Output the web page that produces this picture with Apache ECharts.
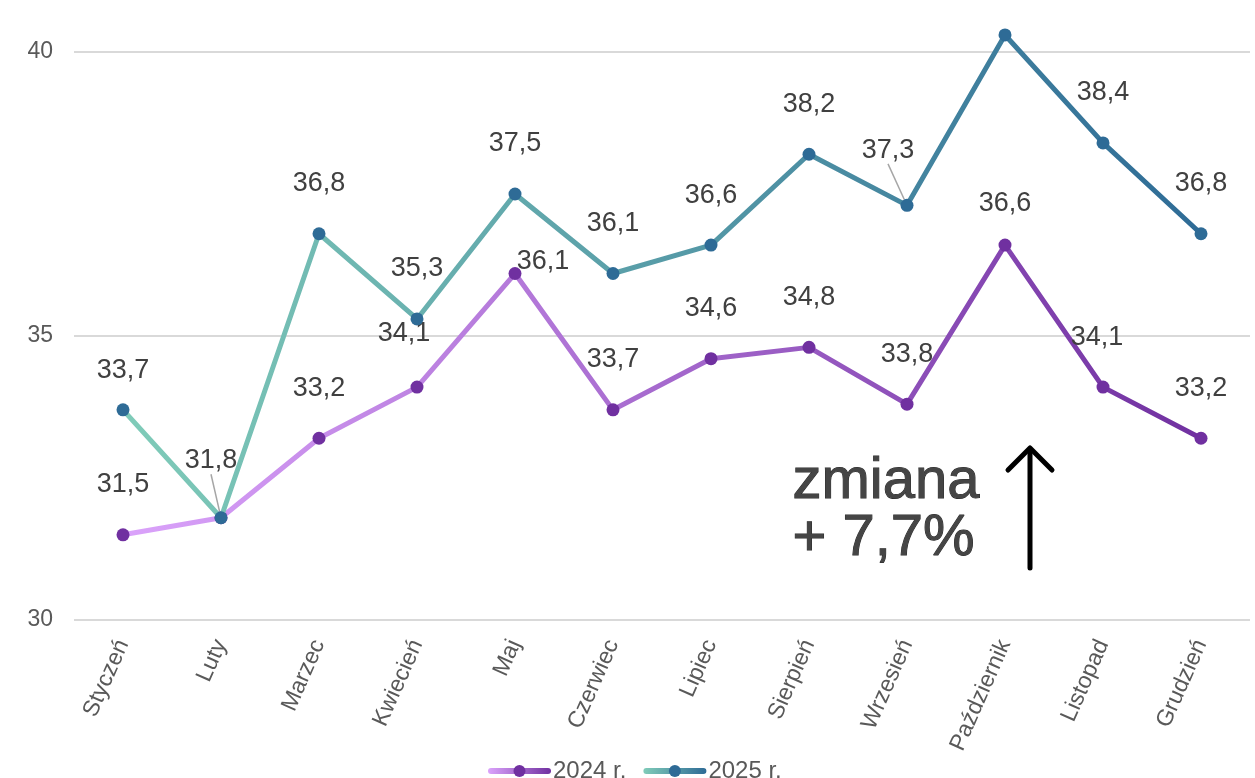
<!DOCTYPE html>
<html>
<head>
<meta charset="utf-8">
<script src="https://cdn.jsdelivr.net/npm/echarts@6.0.0/dist/echarts.min.js"></script>
<style>
html,body{margin:0;padding:0;background:#fff;}
#chart{width:1255px;height:778px;}
</style>
</head>
<body>
<div id="chart"></div>
<script>
const categories = ['Styczeń','Luty','Marzec','Kwiecień','Maj','Czerwiec','Lipiec','Sierpień','Wrzesień','Październik','Listopad','Grudzień'];
const values2024 = [31.5, 31.8, 33.2, 34.1, 36.1, 33.7, 34.6, 34.8, 33.8, 36.6, 34.1, 33.2];
const values2025 = [33.7, 31.8, 36.8, 35.3, 37.5, 36.1, 36.6, 38.2, 37.3, 40.3, 38.4, 36.8];
const seriesNames = ['2024 r.', '2025 r.'];
const yTicks = [30, 35, 40];
const annotationLines = ['zmiana', '+ 7,7%'];

// label placement tweaks (layout only, not data)
const hiddenLabels = {'0-1': true, '1-9': true};
const labelOffsets = {'0-3': [-13, -4], '0-4': [28, 38], '0-9': [0, 8], '0-10': [-6, 0], '1-0': [0, 11], '1-1': [-10, -7], '1-8': [-19, -5]};
const leaderLabels = {'1-1': true, '1-8': true};

const FONT = 'Liberation Sans, Arial, sans-serif';
const BASE_OFFSET = -50;

function buildData(values, si) {
  return values.map((v, i) => {
    const key = si + '-' + i;
    const item = {value: v};
    if (hiddenLabels[key]) item.label = {show: false};
    if (leaderLabels[key]) item.labelLine = {show: true};
    return item;
  });
}

const palettes = [
  {from: '#dba3fb', to: '#7030a0', point: '#7030a0'},
  {from: '#80ccb9', to: '#2e6b96', point: '#2e6b96'}
];

const seriesValues = [values2024, values2025];

const chart = echarts.init(document.getElementById('chart'), null, {renderer: 'canvas'});
chart.setOption({
  animation: false,
  textStyle: {fontFamily: FONT},
  grid: {left: 74, right: 5, top: 23.6, bottom: 158},
  legend: {
    top: 754, left: 483,
    itemWidth: 57, itemHeight: 15, itemGap: 17,
    lineStyle: {width: 6, cap: 'round'},
    textStyle: {fontSize: 24, color: '#595959', fontFamily: FONT},
    data: seriesNames
  },
  xAxis: {
    type: 'category',
    data: categories,
    boundaryGap: true,
    axisLine: {show: false},
    axisTick: {show: false},
    axisLabel: {rotate: 66, margin: 21, fontSize: 23, color: '#595959', fontFamily: FONT, interval: 0}
  },
  yAxis: {
    type: 'value',
    min: yTicks[0], max: 40.5, interval: yTicks[1] - yTicks[0],
    axisLine: {show: false},
    axisTick: {show: false},
    axisLabel: {
      fontSize: 23, color: '#595959', margin: 21, fontFamily: FONT,
      showMaxLabel: false,
      formatter: v => yTicks.indexOf(v) >= 0 ? String(v) : ''
    },
    splitLine: {show: true, showMaxLine: false, lineStyle: {color: '#d9d9d9', width: 2}}
  },
  series: seriesValues.map((vals, si) => ({
    name: seriesNames[si],
    type: 'line',
    data: buildData(vals, si),
    symbol: 'circle',
    symbolSize: 13,
    z: 2 + si,
    lineStyle: {
      width: 5,
      color: new echarts.graphic.LinearGradient(0, 0, 1, 0, [
        {offset: 0, color: palettes[si].from},
        {offset: 1, color: palettes[si].to}
      ])
    },
    itemStyle: {color: palettes[si].point, borderWidth: 0},
    label: {
      show: true,
      position: 'inside',
      fontSize: 27,
      color: '#404040',
      fontFamily: FONT,
      formatter: p => p.value.toFixed(1).replace('.', ',')
    },
    labelLine: {show: false, lineStyle: {color: '#a6a6a6', width: 1.5}},
    labelLayout: function (p) {
      const key = p.seriesIndex + '-' + p.dataIndex;
      const o = labelOffsets[key] || [0, 0];
      return {dx: o[0], dy: BASE_OFFSET + o[1]};
    },
    emphasis: {disabled: true}
  })),
  graphic: [
    {
      type: 'text',
      left: 792, top: 452,
      z: 10,
      style: {
        text: annotationLines.join('\n'),
        fontSize: 58,
        fontFamily: FONT,
        lineHeight: 57,
        fill: '#454545',
        stroke: '#2b2b2b',
        lineWidth: 1,
        align: 'center',
        width: 200
      }
    },
    {
      type: 'polyline',
      z: 10,
      shape: {points: [[1030, 568], [1030, 449]]},
      style: {stroke: '#000', lineWidth: 5, lineCap: 'round', fill: null}
    },
    {
      type: 'polyline',
      z: 10,
      shape: {points: [[1008, 470], [1030, 448], [1052, 470]]},
      style: {stroke: '#000', lineWidth: 5, lineCap: 'round', lineJoin: 'round', fill: null}
    }
  ]
});
</script>
</body>
</html>
